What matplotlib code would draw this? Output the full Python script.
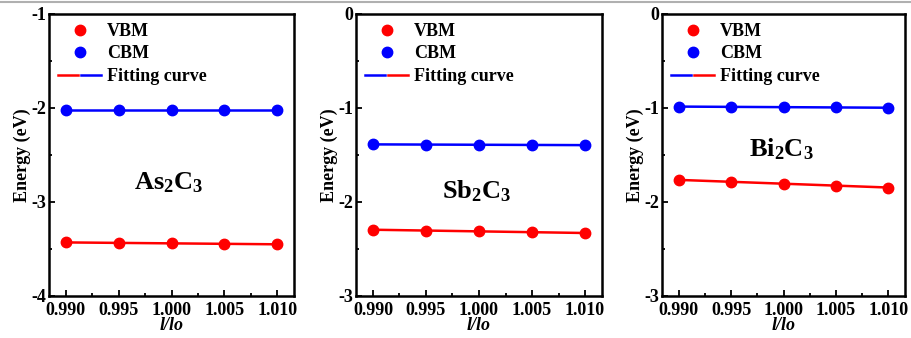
import numpy as np
import matplotlib
matplotlib.use("Agg")
from matplotlib import pyplot as plt
from matplotlib.lines import Line2D
from matplotlib.legend_handler import HandlerTuple
from matplotlib.ticker import MultipleLocator

plt.rcParams['font.family'] = ['Liberation Serif', 'DejaVu Serif']
plt.rcParams['font.weight'] = 'bold'
plt.rcParams['mathtext.fontset'] = 'custom'
plt.rcParams['mathtext.rm'] = 'Liberation Serif:bold'
plt.rcParams['mathtext.it'] = 'Liberation Serif:bold:italic'

# strain l/lo
strain = [0.990, 0.995, 1.000, 1.005, 1.010]

names = [r'$\mathrm{As_2C_3}$', r'$\mathrm{Sb_2C_3}$', r'$\mathrm{Bi_2C_3}$']
vbm_as = [-3.43, -3.435, -3.44, -3.445, -3.45]
cbm_as = [-2.02, -2.02, -2.02, -2.02, -2.02]
vbm_sb = [-2.295, -2.304, -2.312, -2.321, -2.33]
cbm_sb = [-1.387, -1.389, -1.391, -1.393, -1.395]
vbm_bi = [-1.765, -1.785, -1.805, -1.826, -1.846]
cbm_bi = [-0.985, -0.988, -0.991, -0.994, -0.997]

ylims = [(-4, -1), (-3, 0), (-3, 0)]
label_pos = [(0.49, 0.40), (0.49, 0.37), (0.49, 0.52)]
fit_order = [('red', 'blue'), ('blue', 'red'), ('blue', 'red')]

vbm_all = [vbm_as, vbm_sb, vbm_bi]
cbm_all = [cbm_as, cbm_sb, cbm_bi]

fig = plt.figure(figsize=(9.12, 3.38), dpi=100)
lefts = [49, 356, 662]
widths = [245, 246, 243]
bottom = 338 - 296
height = 282
fs = 13

for i in range(3):
    ax = fig.add_axes([lefts[i] / 912, bottom / 338, widths[i] / 912, height / 338])
    x = np.array(strain)
    for vals, col in [(vbm_all[i], 'red'), (cbm_all[i], 'blue')]:
        v = np.array(vals)
        p = np.polyfit(x, v, 1)
        ax.plot(x, np.polyval(p, x), color=col, lw=1.8, zorder=2)
        ax.plot(x, v, 'o', color=col, mec=col, ms=7.5, zorder=3)
    ax.set_xlim(0.9884, 1.0116)
    ax.set_ylim(*ylims[i])
    ax.xaxis.set_minor_locator(MultipleLocator(0.0025))
    ax.yaxis.set_minor_locator(MultipleLocator(0.5))
    ax.set_xticks(strain)
    ax.set_xticklabels(['%.3f' % s for s in strain])
    yt = np.arange(ylims[i][0], ylims[i][1] + 0.1, 1)
    ax.set_yticks(yt)
    ax.set_yticklabels(['%d' % t for t in yt])
    ax.tick_params(which='both', direction='in', width=1.3, labelsize=fs)
    ax.tick_params(axis='x', pad=4)
    ax.tick_params(axis='y', pad=2)
    ax.tick_params(which='major', length=4.5)
    ax.tick_params(which='minor', length=2.5)
    for s in ax.spines.values():
        s.set_linewidth(1.8)
    ax.set_ylabel('Energy (eV)', fontsize=fs, fontweight='bold', labelpad=0)
    ax.set_xlabel('l/lo', fontsize=fs, fontweight='bold', style='italic', labelpad=-1)
    ax.text(label_pos[i][0], label_pos[i][1], names[i], transform=ax.transAxes,
            fontsize=19, ha='center', va='center')

    c1, c2 = fit_order[i]
    h_v = Line2D([], [], marker='o', color='red', ls='none', ms=7.5)
    h_c = Line2D([], [], marker='o', color='blue', ls='none', ms=7.5)
    h_f = (Line2D([], [], color=c1, lw=1.8), Line2D([], [], color=c2, lw=1.8))
    ax.legend([h_v, h_c, h_f], ['VBM', 'CBM', 'Fitting curve'],
              handler_map={tuple: HandlerTuple(ndivide=None, pad=0.15)},
              loc='upper left', frameon=False,
              handlelength=2.4, handletextpad=0.3, labelspacing=0.3,
              borderaxespad=0.15, borderpad=0.35, prop={'weight': 'bold', 'size': fs})

fig.add_artist(Line2D([0, 1], [1 - 2 / 338, 1 - 2 / 338], color='#b0b0b0', lw=1.5))

fig.savefig('out.png', dpi=100)
